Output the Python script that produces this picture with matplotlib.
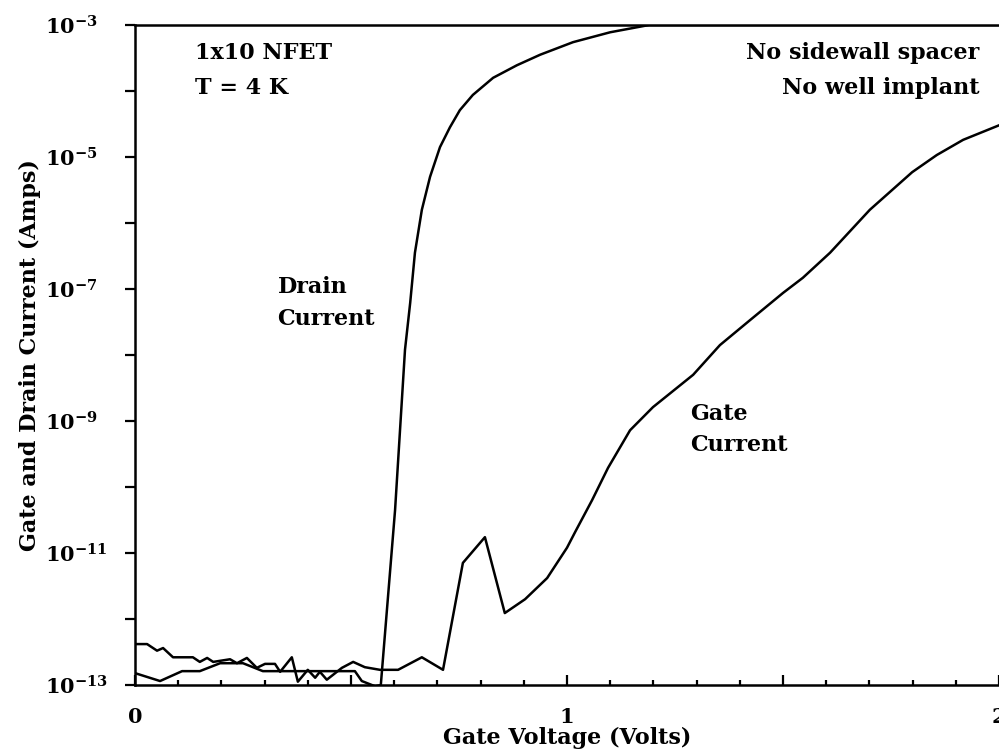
import numpy as np
import matplotlib
matplotlib.use("Agg")
import matplotlib.pyplot as plt
from matplotlib.ticker import FixedLocator, NullFormatter, FuncFormatter

# ---- data ----
gate_v = [0.0, 0.028, 0.051, 0.065, 0.088, 0.134, 0.150, 0.167, 0.181, 0.220,
          0.236, 0.259, 0.282, 0.301, 0.324, 0.336, 0.363, 0.377, 0.400, 0.417,
          0.428, 0.444, 0.479, 0.505, 0.532, 0.567, 0.609, 0.664, 0.713, 0.759,
          0.810, 0.856, 0.903, 0.954, 1.000, 1.019, 1.058, 1.095, 1.146, 1.199,
          1.292, 1.354, 1.424, 1.500, 1.546, 1.609, 1.701, 1.799, 1.856, 1.917,
          2.000]
gate_log = [-12.38, -12.38, -12.48, -12.44, -12.58, -12.58, -12.65, -12.59, -12.65, -12.61,
            -12.67, -12.59, -12.74, -12.68, -12.68, -12.80, -12.58, -12.95, -12.77, -12.89,
            -12.80, -12.92, -12.74, -12.65, -12.73, -12.77, -12.77, -12.58, -12.77, -11.15,
            -10.76, -11.91, -11.70, -11.38, -10.92, -10.68, -10.20, -9.71, -9.14, -8.79,
            -8.30, -7.85, -7.47, -7.06, -6.83, -6.45, -5.80, -5.23, -4.97, -4.74,
            -4.52]

drain_v = [0.0, 0.058, 0.109, 0.150, 0.197, 0.250, 0.273, 0.296, 0.509, 0.525,
           0.556, 0.569, 0.602, 0.625, 0.637, 0.648, 0.664, 0.683, 0.706, 0.729,
           0.752, 0.782, 0.829, 0.884, 0.938, 1.014, 1.100, 1.190, 2.000]
drain_log = [-12.82, -12.94, -12.79, -12.79, -12.67, -12.67, -12.73, -12.79, -12.79, -12.94,
             -13.02, -13.00, -10.35, -7.92, -7.21, -6.45, -5.80, -5.30, -4.85, -4.55,
             -4.29, -4.06, -3.80, -3.61, -3.45, -3.26, -3.11, -3.00, -3.00]

x_labels = ["0", "1", "2"]
y_exps = [-3, -5, -7, -9, -11, -13]

plt.rcParams["font.family"] = ["DejaVu Serif"]
plt.rcParams["font.weight"] = "bold"
plt.rcParams["mathtext.fontset"] = "dejavuserif"

fig = plt.figure(figsize=(9.99, 7.5), dpi=100)
ax = fig.add_axes([135/999, 65/750, 1 - 135/999, 660/750])

lw = 1.8
ax.plot(gate_v, 10.0**np.array(gate_log), color="black", lw=lw)
ax.plot(drain_v, 10.0**np.array(drain_log), color="black", lw=lw)

ax.set_yscale("log")
ax.set_xlim(0, 2)
ax.set_ylim(1e-13, 1e-3)

for s in ["left", "bottom", "top"]:
    ax.spines[s].set_linewidth(lw)
ax.spines["right"].set_visible(False)

# x ticks (inward)
ax.xaxis.set_major_locator(FixedLocator([0, 0.5, 1, 1.5, 2]))
ax.xaxis.set_minor_locator(FixedLocator(np.arange(0, 2.0001, 0.1)))
ax.xaxis.set_major_formatter(FuncFormatter(
    lambda v, p: dict(zip([0, 1, 2], x_labels)).get(round(v, 3), "")))
ax.tick_params(axis="x", which="major", direction="in", length=7.5, width=1.6,
               labelsize=15, pad=16)
ax.tick_params(axis="x", which="minor", direction="in", length=3.6, width=1.6)

# y ticks (outward)
ax.yaxis.set_major_locator(FixedLocator([10.0**e for e in y_exps]))
ax.yaxis.set_minor_locator(FixedLocator([10.0**e for e in [-4, -6, -8, -10, -12]]))
ax.yaxis.set_minor_formatter(NullFormatter())
ax.yaxis.set_major_formatter(FuncFormatter(
    lambda v, p: r"$\mathbf{10^{%d}}$" % int(round(np.log10(v)))))
ax.tick_params(axis="y", which="both", direction="out", length=7.5, width=1.6,
               labelsize=15, pad=57)
for lab in ax.get_yticklabels():
    lab.set_horizontalalignment("left")

ax.set_xlabel("Gate Voltage (Volts)", fontsize=16, fontweight="bold", labelpad=0)
ax.set_ylabel("Gate and Drain Current (Amps)", fontsize=16, fontweight="bold", labelpad=3)

tkw = dict(fontsize=16, fontweight="bold", transform=ax.transData)
ax.text(0.14, 10**-3.42, "1x10 NFET", ha="left", va="center", **tkw)
ax.text(0.14, 10**-3.96, "T = 4 K", ha="left", va="center", **tkw)
ax.text(1.955, 10**-3.42, "No sidewall spacer", ha="right", va="center", **tkw)
ax.text(1.955, 10**-3.96, "No well implant", ha="right", va="center", **tkw)
ax.text(0.33, 10**-6.97, "Drain", ha="left", va="center", **tkw)
ax.text(0.33, 10**-7.45, "Current", ha="left", va="center", **tkw)
ax.text(1.285, 10**-8.90, "Gate", ha="left", va="center", **tkw)
ax.text(1.285, 10**-9.37, "Current", ha="left", va="center", **tkw)

fig.savefig("out.png", dpi=100)
